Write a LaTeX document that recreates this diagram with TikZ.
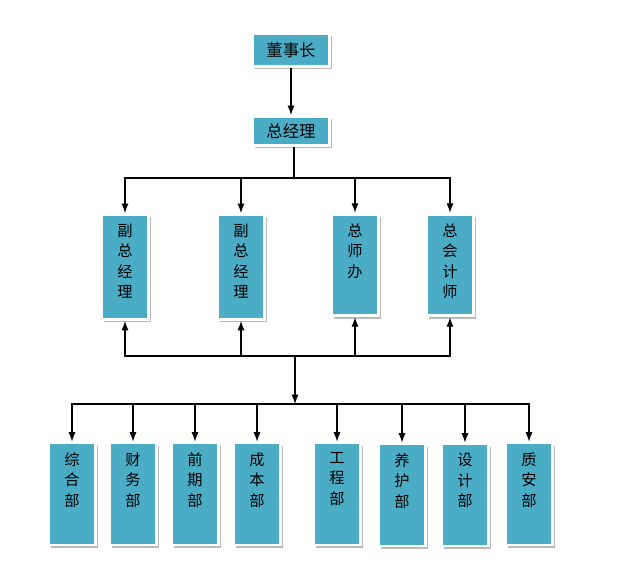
\documentclass[tikz,border=0pt]{standalone}
\usepackage{fontspec}
\setmainfont{Noto Sans CJK SC}
\usetikzlibrary{shadows,arrows.meta}

\definecolor{boxblue}{RGB}{75,172,198}

\tikzset{
  box/.style={rectangle, fill=boxblue, draw=white, line width=2.5pt, inner sep=0pt,
    drop shadow={shadow xshift=2.5pt, shadow yshift=-2.5pt, fill=black!45, opacity=0.6},
    font=\fontsize{14}{16}\selectfont},
  vbox/.style={box, minimum width=1.41cm},
  vtxt/.style={anchor=north, yshift=-9pt, align=center, inner sep=0pt,
    font=\fontsize{13}{17.5}\selectfont},
  link/.style={line width=0.9pt, >={Latex[length=8pt,width=6pt]}},
}

\begin{document}
\begin{tikzpicture}[x=0.03cm, y=-0.03cm]

\useasboundingbox (0,0) rectangle (624,581);

% top
\node[box, minimum width=2.31cm, minimum height=0.99cm] (dsz) at (291,50) {董事长};
\node[box, minimum width=2.31cm, minimum height=0.87cm] (zjl) at (291,131) {总经理};

% middle
\node[vbox, minimum height=3.15cm, label={[vtxt]north:副\\总\\经\\理}] (fz1) at (125,267) {};
\node[vbox, minimum height=3.15cm, label={[vtxt]north:副\\总\\经\\理}] (fz2) at (241,267) {};
\node[vbox, minimum height=3.05cm, label={[vtxt]north:总\\师\\办}] (zsb) at (355,265) {};
\node[vbox, minimum height=3.05cm, label={[vtxt]north:总\\会\\计\\师}] (zkj) at (450,265) {};

% bottom
\node[vbox, minimum height=3.06cm, label={[vtxt]north:综\\合\\部}] (zh) at (72,494) {};
\node[vbox, minimum height=3.06cm, label={[vtxt]north:财\\务\\部}] (cw) at (133,494) {};
\node[vbox, minimum height=3.06cm, label={[vtxt]north:前\\期\\部}] (qq) at (195,494) {};
\node[vbox, minimum height=3.06cm, label={[vtxt]north:成\\本\\部}] (cb) at (257,494) {};
\node[vbox, minimum height=3.06cm, label={[vtxt]north:工\\程\\部}] (gc) at (337,494) {};
\node[vbox, minimum height=3.06cm, label={[vtxt]north:养\\护\\部}] (yh) at (402,495) {};
\node[vbox, minimum height=3.06cm, label={[vtxt]north:设\\计\\部}] (sj) at (465,495) {};
\node[vbox, minimum height=3.06cm, label={[vtxt]north:质\\安\\部}] (za) at (529,494) {};

\coordinate (s1) at (294,178);
\coordinate (j1) at (295,356);
\coordinate (s2) at (295,404);

\draw[link,->] (dsz) -- (zjl);
\draw[link] (zjl.south -| s1) -- (s1);
\foreach \v in {fz1,fz2,zsb,zkj}
  \draw[link,->] (s1) -| (\v.north);
\foreach \v in {fz1,fz2,zsb,zkj}
  \draw[link,->] (j1) -| (\v.south);
\draw[link,->] (j1) -- (s2);
\foreach \v in {zh,cw,qq,cb,gc,yh,sj,za}
  \draw[link,->] (s2) -| (\v.north);

\end{tikzpicture}
\end{document}
